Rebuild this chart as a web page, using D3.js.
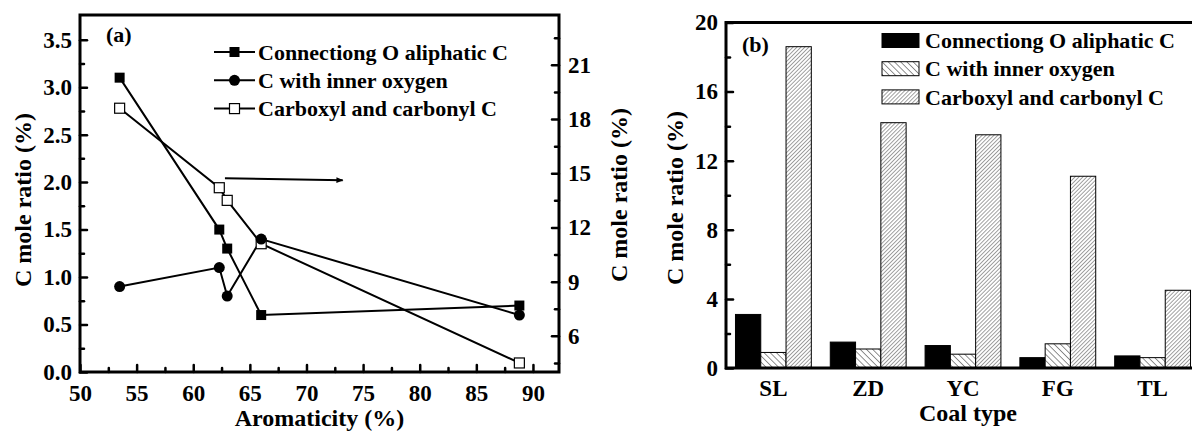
<!DOCTYPE html>
<html>
<head>
<meta charset="utf-8">
<script src="https://cdn.jsdelivr.net/npm/d3@7"></script>
<style>
  html, body { margin: 0; padding: 0; background: #fff; }
  svg text { font-family: "Liberation Serif", "Times New Roman", serif; font-weight: bold; fill: #000; }
</style>
</head>
<body>
<svg id="chart" width="1192" height="432"></svg>
<script>
// ---- data ----
const seriesNames = ["Connectiong O aliphatic C", "C with inner oxygen", "Carboxyl and carbonyl C"];
const coals = ["SL", "ZD", "YC", "FG", "TL"];
const aromaticity = [53.5, 62.3, 63.0, 66.0, 88.8];
const connectingO = [3.1, 1.5, 1.3, 0.6, 0.7];
const innerOxygen = [0.9, 1.1, 0.8, 1.4, 0.6];
const carboxyl = [18.6, 14.2, 13.5, 11.1, 4.5];

// tick values
const xTicksA = [50, 55, 60, 65, 70, 75, 80, 85, 90];
const xMinorA = [52.5, 57.5, 62.5, 67.5, 72.5, 77.5, 82.5, 87.5];
const yTicksA = [0, 0.5, 1.0, 1.5, 2.0, 2.5, 3.0, 3.5];
const yMinorA = [0.25, 0.75, 1.25, 1.75, 2.25, 2.75, 3.25];
const yTicksAR = [6, 9, 12, 15, 18, 21];
const yMinorAR = [4.5, 7.5, 10.5, 13.5, 16.5, 19.5, 22.5];
const yTicksB = [0, 4, 8, 12, 16, 20];
const yMinorB = [2, 6, 10, 14, 18];

// arrow annotation (data units, panel a)
const arrowFrom = [62.8, 2.04];
const arrowTo = [73.2, 2.02];

const svg = d3.select("#chart");
const defs = svg.append("defs");

function hatch(id, spacing, angle, width) {
  const p = defs.append("pattern")
    .attr("id", id)
    .attr("patternUnits", "userSpaceOnUse")
    .attr("width", spacing)
    .attr("height", spacing)
    .attr("patternTransform", `rotate(${angle})`);
  p.append("rect").attr("width", spacing).attr("height", spacing).attr("fill", "#fff");
  p.append("line").attr("x1", 0).attr("y1", 0).attr("x2", 0).attr("y2", spacing)
    .attr("stroke", "#222").attr("stroke-width", width);
}
hatch("hatchBack", 4.4, -45, 1);
hatch("hatchFwd", 2.8, 45, 0.85);

defs.append("marker")
  .attr("id", "arrowHead")
  .attr("viewBox", "0 0 10 10")
  .attr("refX", 9).attr("refY", 5)
  .attr("markerWidth", 12).attr("markerHeight", 7)
  .attr("markerUnits", "userSpaceOnUse")
  .attr("orient", "auto")
  .append("path").attr("d", "M0,1L10,5L0,9Z").attr("fill", "#000");

function styleTicks(g, w) {
  g.select(".domain").remove();
  g.selectAll(".tick line").attr("stroke", "#000").attr("stroke-width", w).attr("stroke-linecap", "round");
  g.selectAll(".tick text").attr("font-size", 23).attr("fill", "#000")
    .style("font-family", '"Liberation Serif", serif').style("font-weight", "bold");
}

// ================= panel (a) =================
const A = { left: 80, right: 559, top: 15, bottom: 372 };
const xA = d3.scaleLinear().domain([50, 92.3]).range([A.left, A.right]);
const yA = d3.scaleLinear().domain([0, 3.76]).range([A.bottom, A.top]);
const yAR = d3.scaleLinear().domain([4, 23.76]).range([A.bottom, A.top]);

const gA = svg.append("g");

// lines
const pts = coals.map((c, i) => ({ x: aromaticity[i], s1: connectingO[i], s2: innerOxygen[i], s3: carboxyl[i] }));
const line1 = d3.line().x(d => xA(d.x)).y(d => yA(d.s1));
const line2 = d3.line().x(d => xA(d.x)).y(d => yA(d.s2));
const line3 = d3.line().x(d => xA(d.x)).y(d => yAR(d.s3));

[line3, line1, line2].forEach(l => {
  gA.append("path").datum(pts).attr("d", l)
    .attr("fill", "none").attr("stroke", "#000").attr("stroke-width", 2);
});

// markers
const sq = 10;
gA.append("g").selectAll("rect").data(pts).join("rect")
  .attr("x", d => xA(d.x) - sq / 2).attr("y", d => yAR(d.s3) - sq / 2)
  .attr("width", sq).attr("height", sq)
  .attr("fill", "#fff").attr("stroke", "#000").attr("stroke-width", 1.2);
gA.append("g").selectAll("rect").data(pts).join("rect")
  .attr("x", d => xA(d.x) - sq / 2).attr("y", d => yA(d.s1) - sq / 2)
  .attr("width", sq).attr("height", sq).attr("fill", "#000");
gA.append("g").selectAll("circle").data(pts).join("circle")
  .attr("cx", d => xA(d.x)).attr("cy", d => yA(d.s2)).attr("r", 5.5).attr("fill", "#000");

// arrow
gA.append("line")
  .attr("x1", xA(arrowFrom[0])).attr("y1", yA(arrowFrom[1]))
  .attr("x2", xA(arrowTo[0])).attr("y2", yA(arrowTo[1]))
  .attr("stroke", "#000").attr("stroke-width", 2)
  .attr("marker-end", "url(#arrowHead)");

// axes
gA.append("g").attr("transform", `translate(0,${A.bottom})`)
  .call(d3.axisBottom(xA).tickValues(xTicksA).tickSize(-7).tickPadding(13).tickFormat(d3.format("d")))
  .call(g => styleTicks(g, 2.5));
gA.append("g").attr("transform", `translate(0,${A.bottom})`)
  .call(d3.axisBottom(xA).tickValues(xMinorA).tickSize(-4).tickFormat(""))
  .call(g => styleTicks(g, 2.5));
gA.append("g").attr("transform", `translate(${A.left},0)`)
  .call(d3.axisLeft(yA).tickValues(yTicksA).tickSize(-7).tickPadding(8).tickFormat(d3.format(".1f")))
  .call(g => styleTicks(g, 2.5));
gA.append("g").attr("transform", `translate(${A.left},0)`)
  .call(d3.axisLeft(yA).tickValues(yMinorA).tickSize(-4).tickFormat(""))
  .call(g => styleTicks(g, 2.5));
gA.append("g").attr("transform", `translate(${A.right},0)`)
  .call(d3.axisRight(yAR).tickValues(yTicksAR).tickSize(-7).tickPadding(9).tickFormat(d3.format("d")))
  .call(g => styleTicks(g, 2.5));
gA.append("g").attr("transform", `translate(${A.right},0)`)
  .call(d3.axisRight(yAR).tickValues(yMinorAR).tickSize(-4).tickFormat(""))
  .call(g => styleTicks(g, 2.5));

// frame
gA.append("rect")
  .attr("x", A.left).attr("y", A.top)
  .attr("width", A.right - A.left).attr("height", A.bottom - A.top)
  .attr("fill", "none").attr("stroke", "#000").attr("stroke-width", 3);

// titles
gA.append("text").attr("x", (A.left + A.right) / 2).attr("y", 426)
  .attr("text-anchor", "middle").attr("font-size", 24).text("Aromaticity (%)");
gA.append("text").attr("transform", "translate(31,200) rotate(-90)")
  .attr("text-anchor", "middle").attr("font-size", 24).text("C mole ratio (%)");
gA.append("text").attr("transform", "translate(627,195) rotate(-90)")
  .attr("text-anchor", "middle").attr("font-size", 24).text("C mole ratio (%)");
gA.append("text").attr("x", 106).attr("y", 42).attr("font-size", 22).text("(a)");

// legend (a)
const legA = gA.append("g").attr("transform", "translate(214,52)");
seriesNames.forEach((name, i) => {
  const row = legA.append("g").attr("transform", `translate(0,${i * 28.3})`);
  row.append("line").attr("x1", 0).attr("x2", 41).attr("stroke", "#000").attr("stroke-width", 2);
  if (i === 0) row.append("rect").attr("x", 15.5).attr("y", -5).attr("width", 10).attr("height", 10).attr("fill", "#000");
  if (i === 1) row.append("circle").attr("cx", 20.5).attr("r", 5.5).attr("fill", "#000");
  if (i === 2) row.append("rect").attr("x", 15.5).attr("y", -5).attr("width", 10).attr("height", 10)
    .attr("fill", "#fff").attr("stroke", "#000").attr("stroke-width", 1.2);
  row.append("text").attr("x", 44).attr("dy", "0.35em").attr("font-size", 22).text(name);
});

// ================= panel (b) =================
const B = { left: 726, right: 1200, top: 22.5, bottom: 368 };
const x0 = d3.scaleBand().domain(coals).range([B.left, B.right]).paddingInner(0.2).paddingOuter(0.1);
const x1 = d3.scaleBand().domain(seriesNames).range([0, x0.bandwidth()]);
const yB = d3.scaleLinear().domain([0, 20]).range([B.bottom, B.top]);
const fills = ["#000", "url(#hatchBack)", "url(#hatchFwd)"];
const valuesB = [connectingO, innerOxygen, carboxyl];

const gB = svg.append("g");
const barData = [];
coals.forEach((c, i) => seriesNames.forEach((s, j) => barData.push({ c, s, j, v: valuesB[j][i] })));

gB.append("g").selectAll("rect").data(barData).join("rect")
  .attr("x", d => x0(d.c) + x1(d.s))
  .attr("y", d => yB(d.v))
  .attr("width", x1.bandwidth())
  .attr("height", d => yB(0) - yB(d.v))
  .attr("fill", d => fills[d.j])
  .attr("stroke", "#000").attr("stroke-width", 1);

gB.append("g").attr("transform", `translate(${B.left},0)`)
  .call(d3.axisLeft(yB).tickValues(yTicksB).tickSize(-7).tickPadding(8).tickFormat(d3.format("d")))
  .call(g => styleTicks(g, 2.5));
gB.append("g").attr("transform", `translate(${B.left},0)`)
  .call(d3.axisLeft(yB).tickValues(yMinorB).tickSize(-4).tickFormat(""))
  .call(g => styleTicks(g, 2.5));
gB.append("g").attr("transform", `translate(0,${B.bottom})`)
  .call(d3.axisBottom(x0).tickSize(0).tickPadding(12))
  .call(g => styleTicks(g, 0));

// frame lines (left, bottom, top)
gB.append("path")
  .attr("d", `M${B.right},${B.top}H${B.left}V${B.bottom}H${B.right}`)
  .attr("fill", "none").attr("stroke", "#000").attr("stroke-width", 3);

gB.append("text").attr("x", 968).attr("y", 421)
  .attr("text-anchor", "middle").attr("font-size", 24).text("Coal type");
gB.append("text").attr("transform", "translate(683,198) rotate(-90)")
  .attr("text-anchor", "middle").attr("font-size", 24).text("C mole ratio (%)");
gB.append("text").attr("x", 742).attr("y", 52).attr("font-size", 22).text("(b)");

// legend (b)
const legB = gB.append("g").attr("transform", "translate(882,40.5)");
seriesNames.forEach((name, i) => {
  const row = legB.append("g").attr("transform", `translate(0,${i * 28.2})`);
  row.append("rect").attr("x", 0).attr("y", -7).attr("width", 37).attr("height", 14)
    .attr("fill", fills[i]).attr("stroke", "#000").attr("stroke-width", 1);
  row.append("text").attr("x", 43).attr("dy", "0.35em").attr("font-size", 22).text(name);
});
</script>
</body>
</html>
